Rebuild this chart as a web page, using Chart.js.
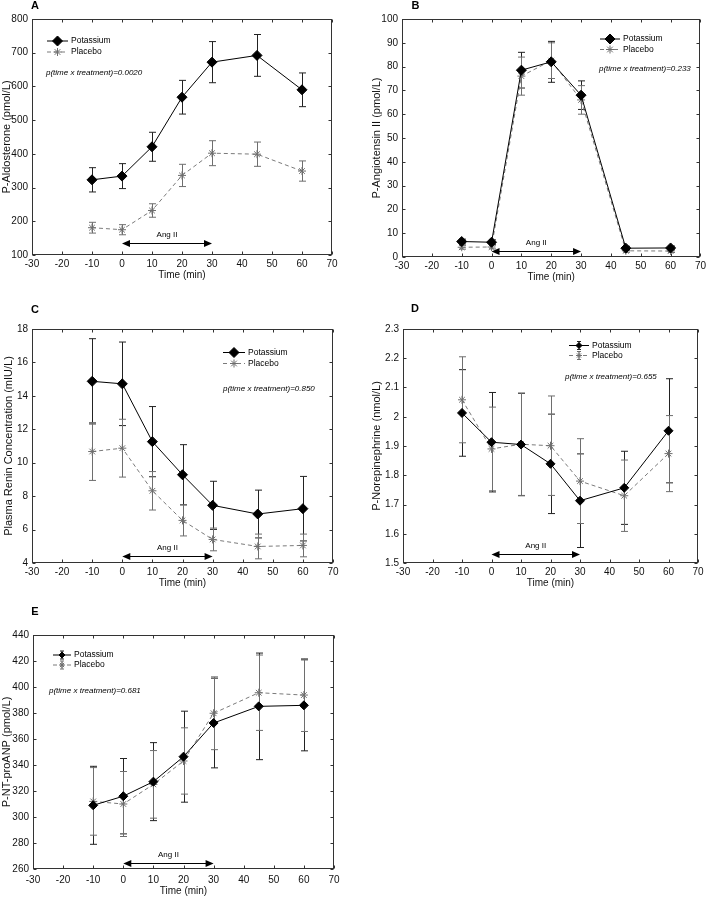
<!DOCTYPE html>
<html>
<head>
<meta charset="utf-8">
<script src="https://cdn.jsdelivr.net/npm/chart.js@4.4.0/dist/chart.umd.min.js"></script>
<style>
  body { margin: 0; background: #fff; width: 709px; height: 898px; position: relative; overflow: hidden; }
  canvas { position: absolute; }
</style>
</head>
<body>
<canvas id="chartA" width="345" height="282" style="left:0;top:0"></canvas>
<canvas id="chartB" width="354" height="284" style="left:355px;top:0"></canvas>
<canvas id="chartC" width="345" height="300" style="left:0;top:290px"></canvas>
<canvas id="chartD" width="354" height="300" style="left:355px;top:290px"></canvas>
<canvas id="chartE" width="345" height="298" style="left:0;top:600px"></canvas>
<script>
// tempos de coleta (min)
const timePoints = [-10, 0, 10, 20, 30, 45, 60];
const xTicks = [-30, -20, -10, 0, 10, 20, 30, 40, 50, 60, 70];

// A - aldosterona
const aldoPotassium = [323, 334, 421, 568, 672, 692, 590];
const aldoPotassiumErr = [36, 37, 43, 50, 61, 62, 50];
const aldoPlacebo = [181, 175, 232, 336, 402, 399, 349];
const aldoPlaceboErr = [16, 15, 20, 33, 37, 36, 30];
const aldoTicks = [100, 200, 300, 400, 500, 600, 700, 800];

// B - angiotensina II
const angPotassium = [6.5, 6.2, 78.5, 82, 68, 3.7, 3.8];
const angPotassiumErr = [1.0, 1.0, 7.5, 8.6, 6, 0.8, 0.8];
const angPlacebo = [4.1, 4.2, 76, 82.5, 66, 2.6, 2.5];
const angPlaceboErr = [0.8, 0.8, 8, 7.5, 6, 0.6, 0.6];
const angTicks = [0, 10, 20, 30, 40, 50, 60, 70, 80, 90, 100];

// C - renina
const reninPotassium = [14.87, 14.72, 11.26, 9.28, 7.45, 6.93, 7.25];
const reninPotassiumErr = [2.55, 2.5, 2.1, 1.8, 1.44, 1.43, 1.93];
const reninPlacebo = [10.67, 10.87, 8.32, 6.55, 5.41, 4.99, 5.05];
const reninPlaceboErr = [1.73, 1.73, 1.15, 0.93, 0.68, 0.74, 0.68];
const reninTicks = [4, 6, 8, 10, 12, 14, 16, 18];

// D - noradrenalina
const nePotassium = [2.013, 1.913, 1.905, 1.839, 1.713, 1.757, 1.952];
const nePotassiumErr = [0.148, 0.17, 0.175, 0.17, 0.16, 0.125, 0.178];
const nePlacebo = [2.058, 1.890, 1.906, 1.901, 1.780, 1.730, 1.874];
const nePlaceboErr = [0.147, 0.143, 0.175, 0.17, 0.145, 0.122, 0.13];
const neTicks = [1.5, 1.6, 1.7, 1.8, 1.9, 2, 2.1, 2.2, 2.3];

// E - NT-proANP
const anpPotassium = [309, 316, 327.2, 346.4, 372.3, 385.1, 385.9];
const anpPotassiumErr = [30, 29, 30, 35, 34.5, 41, 35];
const anpPlacebo = [312, 310, 325.1, 343.1, 379.8, 395.6, 393.8];
const anpPlaceboErr = [26, 25, 26, 25.5, 28, 29, 28];
const anpTicks = [260, 280, 300, 320, 340, 360, 380, 400, 420, 440];

const FONT = "'Liberation Sans', Arial, Helvetica, sans-serif";
const { drawPoint } = Chart.helpers;

// eixos estilo Matlab, barras de erro, legenda e anotacoes
const matlabPlugin = {
    id: 'matlab',
    beforeDatasetsDraw(chart) {
        const { ctx, scales: { x, y } } = chart;
        chart.data.datasets.forEach(ds => {
            ctx.save();
            ctx.strokeStyle = ds.errorColor;
            ctx.lineWidth = 1;
            ds.data.forEach((p, j) => {
                const px = Math.round(x.getPixelForValue(p.x)) + 0.5;
                const top = y.getPixelForValue(p.y + ds.errors[j]);
                const bot = y.getPixelForValue(p.y - ds.errors[j]);
                ctx.beginPath();
                ctx.moveTo(px, top); ctx.lineTo(px, bot);
                ctx.moveTo(px - 3.5, top); ctx.lineTo(px + 3.5, top);
                ctx.moveTo(px - 3.5, bot); ctx.lineTo(px + 3.5, bot);
                ctx.stroke();
            });
            ctx.restore();
        });
    },
    afterDraw(chart, args, o) {
        const { ctx, chartArea: a, scales: { x, y } } = chart;
        ctx.save();
        // caixa
        ctx.strokeStyle = '#333';
        ctx.lineWidth = 1;
        const L = Math.round(a.left) + 0.5, R = Math.round(a.right) - 0.5;
        const T = Math.round(a.top) + 0.5, B = Math.round(a.bottom) - 0.5;
        ctx.strokeRect(L, T, R - L, B - T);
        ctx.beginPath();
        x.ticks.forEach(t => {
            const px = Math.round(x.getPixelForValue(t.value)) + 0.5;
            ctx.moveTo(px, B); ctx.lineTo(px, B - 3);
            ctx.moveTo(px, T); ctx.lineTo(px, T + 3);
        });
        y.ticks.forEach(t => {
            const py = Math.round(y.getPixelForValue(t.value)) + 0.5;
            ctx.moveTo(L, py); ctx.lineTo(L + 3, py);
            ctx.moveTo(R, py); ctx.lineTo(R - 3, py);
        });
        ctx.stroke();

        // seta Ang II
        const ay = Math.round(y.getPixelForValue(o.arrowY)) + 0.5;
        const x0 = x.getPixelForValue(0), x1 = x.getPixelForValue(30);
        ctx.strokeStyle = '#000';
        ctx.fillStyle = '#000';
        ctx.beginPath();
        ctx.moveTo(x0 + 6, ay); ctx.lineTo(x1 - 6, ay);
        ctx.stroke();
        ctx.beginPath();
        ctx.moveTo(x0, ay); ctx.lineTo(x0 + 8, ay - 3.5); ctx.lineTo(x0 + 8, ay + 3.5); ctx.closePath();
        ctx.moveTo(x1, ay); ctx.lineTo(x1 - 8, ay - 3.5); ctx.lineTo(x1 - 8, ay + 3.5); ctx.closePath();
        ctx.fill();
        ctx.font = '8px ' + FONT;
        ctx.textAlign = 'center';
        ctx.textBaseline = 'middle';
        ctx.fillText('Ang II', x.getPixelForValue(15), ay - 9);

        // legenda
        const lg = o.legend;
        chart.data.datasets.forEach((ds, i) => {
            const ly = lg.y[i];
            ctx.save();
            ctx.strokeStyle = ds.borderColor;
            ctx.lineWidth = 1;
            ctx.setLineDash(ds.borderDash || []);
            ctx.beginPath();
            ctx.moveTo(lg.x0, ly); ctx.lineTo(lg.x1, ly);
            ctx.stroke();
            ctx.setLineDash([]);
            const cx = (lg.x0 + lg.x1) / 2;
            if (lg.errGlyph) {
                ctx.strokeStyle = ds.errorColor;
                ctx.beginPath();
                ctx.moveTo(cx, ly - 4); ctx.lineTo(cx, ly + 4);
                ctx.moveTo(cx - 2, ly - 4); ctx.lineTo(cx + 2, ly - 4);
                ctx.moveTo(cx - 2, ly + 4); ctx.lineTo(cx + 2, ly + 4);
                ctx.stroke();
            }
            ctx.fillStyle = ds.pointBackgroundColor;
            ctx.strokeStyle = ds.pointBorderColor;
            drawPoint(ctx, { pointStyle: ds.pointStyle, radius: lg.r || ds.pointRadius, rotation: 0, borderWidth: 1 }, cx, ly);
            ctx.restore();
            ctx.fillStyle = '#000';
            ctx.font = '8.5px ' + FONT;
            ctx.textAlign = 'left';
            ctx.fillText(ds.label, lg.x1 + 3, ly);
        });

        // p-valor
        ctx.font = 'italic 8px ' + FONT;
        ctx.fillText(o.pText, o.pPos[0], o.pPos[1]);

        // letra do painel
        ctx.font = 'bold 11px ' + FONT;
        ctx.textAlign = 'center';
        ctx.fillText(o.letter, o.letterPos[0], o.letterPos[1]);
        ctx.restore();
    }
};

function makePanel(id, p) {
    new Chart(document.getElementById(id), {
        type: 'line',
        data: {
            datasets: [{
                label: 'Potassium',
                data: timePoints.map((t, i) => ({ x: t, y: p.pot[i] })),
                errors: p.potErr,
                errorColor: '#222',
                borderColor: '#000',
                borderWidth: 1,
                pointStyle: 'rectRot',
                pointRadius: p.r,
                pointBackgroundColor: '#000',
                pointBorderColor: '#000',
                tension: 0
            }, {
                label: 'Placebo',
                data: timePoints.map((t, i) => ({ x: t, y: p.pla[i] })),
                errors: p.plaErr,
                errorColor: '#6e6e6e',
                borderColor: '#7a7a7a',
                borderWidth: 1,
                borderDash: [4, 3],
                pointStyle: 'star',
                pointRadius: 4,
                pointBackgroundColor: '#7a7a7a',
                pointBorderColor: '#6e6e6e',
                pointBorderWidth: 1,
                tension: 0
            }]
        },
        options: {
            responsive: false,
            animation: false,
            layout: { padding: p.pad },
            scales: {
                x: {
                    type: 'linear', min: -30, max: 70,
                    afterBuildTicks: s => { s.ticks = xTicks.map(v => ({ value: v })); },
                    afterFit: s => { s.height = p.xH; },
                    ticks: { color: '#111', font: { size: 10, family: FONT }, padding: p.xPad, maxRotation: 0, autoSkip: false },
                    grid: { display: false, drawTicks: false },
                    border: { display: false },
                    title: { display: true, text: 'Time (min)', color: '#111', font: { size: 10, family: FONT }, padding: { top: 0, bottom: 1 } }
                },
                y: {
                    type: 'linear', min: p.ticks[0], max: p.ticks[p.ticks.length - 1],
                    afterBuildTicks: s => { s.ticks = p.ticks.map(v => ({ value: v })); },
                    afterFit: s => { s.width = p.yW; },
                    ticks: { color: '#111', font: { size: 10, family: FONT }, padding: 4, callback: v => String(v) },
                    grid: { display: false, drawTicks: false },
                    border: { display: false },
                    title: { display: true, text: p.yTitle, color: '#111', font: { size: 11, family: FONT }, padding: 0 }
                }
            },
            plugins: {
                legend: { display: false },
                tooltip: { enabled: false },
                matlab: p.deco
            }
        },
        plugins: [matlabPlugin]
    });
}

makePanel('chartA', {
    pot: aldoPotassium, potErr: aldoPotassiumErr, pla: aldoPlacebo, plaErr: aldoPlaceboErr,
    ticks: aldoTicks, yTitle: 'P-Aldosterone (pmol/L)', r: 5,
    pad: { left: 0, top: 19, right: 13, bottom: 0 }, yW: 32, xH: 27, xPad: 3,
    deco: { arrowY: 137, legend: { x0: 47, x1: 68, y: [41, 52] },
            pText: 'p(time x treatment)=0.0020', pPos: [46, 73], letter: 'A', letterPos: [35, 6] }
});

makePanel('chartB', {
    pot: angPotassium, potErr: angPotassiumErr, pla: angPlacebo, plaErr: angPlaceboErr,
    ticks: angTicks, yTitle: 'P-Angiotensin II (pmol/L)', r: 5,
    pad: { left: 15, top: 19, right: 6, bottom: 0 }, yW: 32, xH: 27, xPad: 3,
    deco: { arrowY: 2.5, legend: { x0: 245, x1: 265, y: [39, 49.5] },
            pText: 'p(time x treatment)=0.233', pPos: [244, 68.5], letter: 'B', letterPos: [60.5, 6] }
});

makePanel('chartC', {
    pot: reninPotassium, potErr: reninPotassiumErr, pla: reninPlacebo, plaErr: reninPlaceboErr,
    ticks: reninTicks, yTitle: 'Plasma Renin Concentration (mIU/L)', r: 5,
    pad: { left: 2, top: 39, right: 12, bottom: 0 }, yW: 30, xH: 27, xPad: 3,
    deco: { arrowY: 4.43, legend: { x0: 223, x1: 245, y: [62.5, 73.5] },
            pText: 'p(time x treatment)=0.850', pPos: [223, 98.5], letter: 'C', letterPos: [35, 19.5] }
});

makePanel('chartD', {
    pot: nePotassium, potErr: nePotassiumErr, pla: nePlacebo, plaErr: nePlaceboErr,
    ticks: neTicks, yTitle: 'P-Norepinephrine (nmol/L)', r: 4.5,
    pad: { left: 15, top: 39, right: 11, bottom: 0 }, yW: 33, xH: 27, xPad: 3,
    deco: { arrowY: 1.53, legend: { x0: 214, x1: 234, y: [55.5, 65.5], errGlyph: true, r: 3 },
            pText: 'p(time x treatment)=0.655', pPos: [210, 87], letter: 'D', letterPos: [60, 19] }
});

makePanel('chartE', {
    pot: anpPotassium, potErr: anpPotassiumErr, pla: anpPlacebo, plaErr: anpPlaceboErr,
    ticks: anpTicks, yTitle: 'P-NT-proANP (pmol/L)', r: 4.5,
    pad: { left: 0, top: 35, right: 11, bottom: 0 }, yW: 33, xH: 29, xPad: 5,
    deco: { arrowY: 265, legend: { x0: 53, x1: 71, y: [55, 65], errGlyph: true, r: 3 },
            pText: 'p(time x treatment)=0.681', pPos: [49, 91], letter: 'E', letterPos: [35, 12] }
});
</script>
</body>
</html>
